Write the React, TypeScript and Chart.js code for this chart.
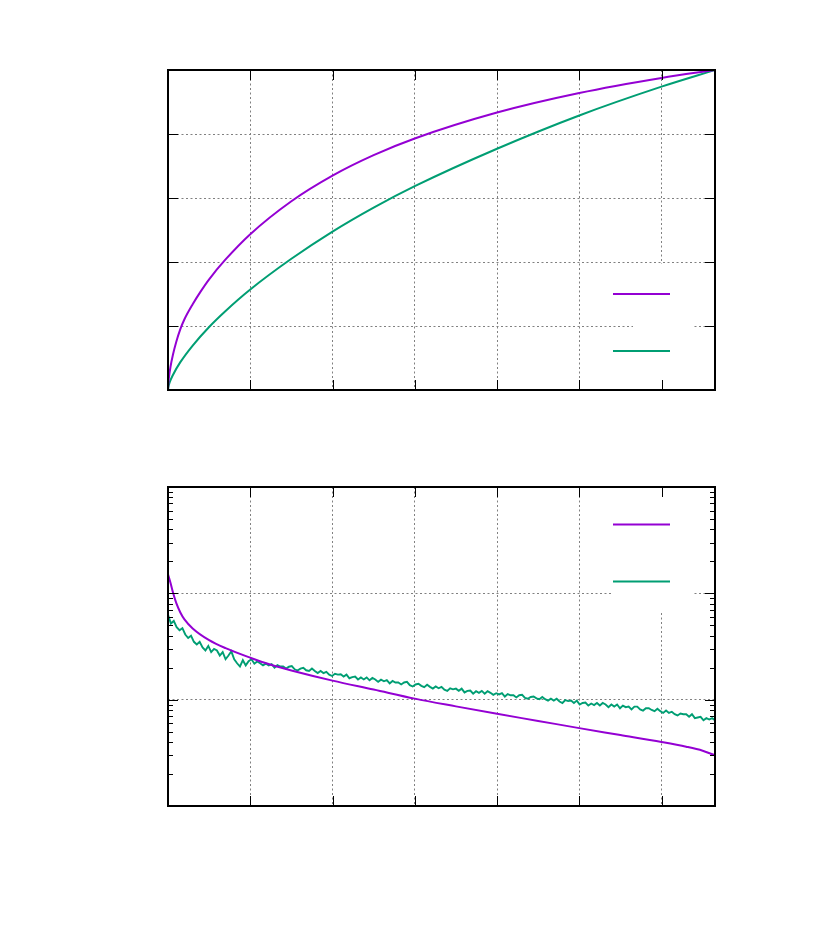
import React, { useEffect, useRef } from "react";
import { Chart, registerables } from "chart.js";

Chart.register(...registerables);

const PURPLE = "#9400d3";
const GREEN = "#009e73";

// X axis ticks shared by both panels
const xTickValues = [0, 1, 2, 3, 4, 5, 6];
const xMax = 6.65;

// Top panel (linear y 0..1)
const topYTicks = [0, 0.2, 0.4, 0.6, 0.8, 1];
const topPurpleX = [0, 0.003, 0.01, 0.03, 0.06, 0.1, 0.15, 0.2, 0.3, 0.4, 0.5, 0.7, 1, 1.5, 2, 2.5, 3, 4, 5, 6, 6.65];
const topPurpleY = [0, 0.016, 0.036, 0.072, 0.11, 0.15, 0.19, 0.221, 0.268, 0.309, 0.346, 0.408, 0.487, 0.59, 0.67, 0.734, 0.786, 0.867, 0.928, 0.975, 1];
const topGreenX = [0, 0.005, 0.02, 0.06, 0.15, 0.3, 0.5, 0.7, 1, 1.5, 2, 2.5, 3, 4, 5, 6, 6.65];
const topGreenY = [0, 0.01, 0.0235, 0.047, 0.087, 0.139, 0.197, 0.247, 0.314, 0.41, 0.495, 0.57, 0.637, 0.754, 0.858, 0.948, 1];

// Bottom panel (log y 0.001..1)
const logMajor = [0.001, 0.01, 0.1, 1];
const botPurpleX = [0, 0.03, 0.06, 0.1, 0.15, 0.2, 0.3, 0.5, 0.7, 1, 1.25, 1.5, 2, 2.5, 3, 3.5, 4, 4.5, 5, 5.5, 6, 6.3, 6.5, 6.65];
const botPurpleY = [0.1514, 0.1259, 0.1023, 0.0813, 0.0661, 0.0569, 0.0468, 0.0363, 0.0305, 0.0248, 0.0213, 0.0188, 0.0151, 0.01245, 0.01023, 0.00865, 0.00736, 0.00631, 0.0054, 0.00465, 0.004, 0.00361, 0.00331, 0.003];
const botGreenStep = 0.035;
const botGreenY = [
  0.063, 0.052, 0.055, 0.048, 0.045, 0.047, 0.041, 0.038, 0.040, 0.035,
  0.033, 0.035, 0.031, 0.029, 0.032, 0.028, 0.030, 0.029, 0.026, 0.028,
  0.024, 0.026, 0.0285, 0.024, 0.022, 0.0205, 0.0235, 0.021, 0.023, 0.024,
  0.0218, 0.0229, 0.0220, 0.0210, 0.0218, 0.0210, 0.0216, 0.0200, 0.0211, 0.0205,
  0.0205, 0.0196, 0.0204, 0.0207, 0.0193, 0.0188, 0.0196, 0.0199, 0.0189, 0.0186,
  0.0196, 0.0186, 0.0178, 0.0186, 0.0178, 0.0183, 0.0172, 0.0167, 0.0175, 0.0172,
  0.0173, 0.0165, 0.0172, 0.0159, 0.0163, 0.0165, 0.0155, 0.0162, 0.0155, 0.0162,
  0.0152, 0.0160, 0.0155, 0.0147, 0.0154, 0.0149, 0.0153, 0.0142, 0.0150, 0.0145,
  0.0145, 0.0139, 0.0145, 0.0147, 0.0137, 0.0133, 0.0139, 0.0141, 0.0135, 0.0131,
  0.0138, 0.0132, 0.0127, 0.0133, 0.0128, 0.0132, 0.0124, 0.0121, 0.0128, 0.0125,
  0.0127, 0.0121, 0.0127, 0.0117, 0.0121, 0.0122, 0.0114, 0.0120, 0.0116, 0.0121,
  0.0114, 0.0120, 0.0116, 0.0111, 0.0115, 0.0112, 0.0115, 0.0107, 0.0113, 0.0110,
  0.0110, 0.0105, 0.0110, 0.0111, 0.0104, 0.0102, 0.0106, 0.0107, 0.0103, 0.0101,
  0.0106, 0.0101, 0.0098, 0.0102, 0.0098, 0.0102, 0.0096, 0.0093, 0.0099, 0.0097,
  0.0098, 0.0093, 0.0098, 0.0090, 0.0093, 0.0094, 0.0088, 0.0092, 0.0089, 0.0093,
  0.0088, 0.0093, 0.0090, 0.0085, 0.0090, 0.0086, 0.0090, 0.0083, 0.0088, 0.0085,
  0.0086, 0.0081, 0.0086, 0.0086, 0.0081, 0.0079, 0.0083, 0.0083, 0.0080, 0.0078,
  0.0082, 0.0078, 0.0075, 0.0079, 0.0075, 0.0077, 0.0073, 0.0071, 0.0074, 0.0073,
  0.0073, 0.0069, 0.0073, 0.0067, 0.0068, 0.0069, 0.0064, 0.0067, 0.0065, 0.0067, 0.0064,
];

const zip = (xs: number[], ys: number[]) => xs.map((x, i) => ({ x, y: ys[i] }));

const framePlugin = {
  id: "frame",
  beforeDatasetsDraw(chart: any, _a: any, opts: any) {
    const ctx = chart.ctx;
    const b = opts.box;
    if (b) {
      ctx.save();
      ctx.fillStyle = "#ffffff";
      ctx.fillRect(b.x, b.y, b.w, b.h);
      ctx.restore();
    }
  },
  afterDatasetsDraw(chart: any, _a: any, opts: any) {
    const ctx = chart.ctx;
    const { left, right, top, bottom } = chart.chartArea;
    ctx.save();
    ctx.strokeStyle = "#000";
    ctx.lineWidth = 1;
    const xs = chart.scales.x;
    xs.ticks.forEach((t: any) => {
      const p = Math.round(xs.getPixelForValue(t.value)) + 0.5;
      if (p < left + 2 || p > right - 2) return;
      ctx.beginPath();
      ctx.moveTo(p, bottom); ctx.lineTo(p, bottom - 10);
      ctx.moveTo(p, top); ctx.lineTo(p, top + 10);
      ctx.stroke();
    });
    const ys = chart.scales.y;
    const yTick = (v: number, len: number) => {
      const p = Math.round(ys.getPixelForValue(v)) + 0.5;
      if (p < top + 2 || p > bottom - 2) return;
      ctx.beginPath();
      ctx.moveTo(left, p); ctx.lineTo(left + len, p);
      ctx.moveTo(right, p); ctx.lineTo(right - len, p);
      ctx.stroke();
    };
    ys.ticks.forEach((t: any) => yTick(t.value, 10));
    if (opts.logMinor) {
      for (let d = 0; d < logMajor.length - 1; d++) {
        for (let m = 2; m <= 9; m++) yTick(m * logMajor[d], 5);
      }
    }
    ctx.lineWidth = 2;
    ctx.strokeRect(left, top, right - left, bottom - top);
    (opts.keys || []).forEach((k: any, i: number) => {
      ctx.strokeStyle = chart.data.datasets[i].borderColor;
      ctx.lineWidth = 2;
      ctx.beginPath();
      ctx.moveTo(k.x1, k.y); ctx.lineTo(k.x2, k.y);
      ctx.stroke();
    });
    ctx.restore();
  },
};

const gridOpts = { color: "#808080", lineWidth: 1, drawTicks: false };
const borderOpts = { display: false, dash: [2, 2.5] };

function xScale() {
  return {
    type: "linear",
    min: 0,
    max: xMax,
    afterFit: (s: any) => { s.height = 0; },
    afterBuildTicks: (s: any) => { s.ticks = xTickValues.map((v) => ({ value: v })); },
    ticks: { display: false },
    grid: gridOpts,
    border: borderOpts,
  };
}

function PanelTop() {
  const ref = useRef<HTMLCanvasElement>(null);
  useEffect(() => {
    const chart = new Chart(ref.current as HTMLCanvasElement, {
      type: "line",
      data: {
        datasets: [
          { data: zip(topPurpleX, topPurpleY), borderColor: PURPLE, borderWidth: 2, pointRadius: 0, cubicInterpolationMode: "monotone" },
          { data: zip(topGreenX, topGreenY), borderColor: GREEN, borderWidth: 2, pointRadius: 0, cubicInterpolationMode: "monotone" },
        ],
      } as any,
      options: {
        animation: false,
        responsive: false,
        maintainAspectRatio: false,
        layout: { padding: { left: 168, top: 70, right: 125, bottom: 80 } },
        plugins: {
          legend: { display: false },
          tooltip: { enabled: false },
          frame: {
            box: { x: 633, y: 264, w: 60, h: 125 },
            keys: [{ x1: 613, x2: 670, y: 294 }, { x1: 613, x2: 670, y: 351 }],
          },
        } as any,
        scales: {
          x: xScale(),
          y: {
            type: "linear",
            min: 0,
            max: 1,
            afterFit: (s: any) => { s.width = 0; },
            afterBuildTicks: (s: any) => { s.ticks = topYTicks.map((v) => ({ value: v })); },
            ticks: { display: false },
            grid: gridOpts,
            border: borderOpts,
          },
        } as any,
      },
      plugins: [framePlugin],
    });
    return () => chart.destroy();
  }, []);
  return <canvas ref={ref} width={840} height={470} style={{ position: "absolute", left: 0, top: 0, width: 840, height: 470 }} />;
}

function PanelBottom() {
  const ref = useRef<HTMLCanvasElement>(null);
  useEffect(() => {
    const greenPts = botGreenY.map((y, i) => ({ x: Math.min(i * botGreenStep, xMax), y }));
    const chart = new Chart(ref.current as HTMLCanvasElement, {
      type: "line",
      data: {
        datasets: [
          { data: zip(botPurpleX, botPurpleY), borderColor: PURPLE, borderWidth: 2, pointRadius: 0, cubicInterpolationMode: "monotone" },
          { data: greenPts, borderColor: GREEN, borderWidth: 1.9, pointRadius: 0, tension: 0 },
        ],
      } as any,
      options: {
        animation: false,
        responsive: false,
        maintainAspectRatio: false,
        layout: { padding: { left: 168, top: 17, right: 125, bottom: 138 } },
        plugins: {
          legend: { display: false },
          tooltip: { enabled: false },
          frame: {
            logMinor: true,
            box: { x: 613, y: 18, w: 80, h: 124 },
            keys: [{ x1: 613, x2: 670, y: 54.5 }, { x1: 613, x2: 670, y: 111.5 }],
          },
        } as any,
        scales: {
          x: xScale(),
          y: {
            type: "logarithmic",
            min: 0.001,
            max: 1,
            afterFit: (s: any) => { s.width = 0; },
            afterBuildTicks: (s: any) => { s.ticks = logMajor.map((v) => ({ value: v })); },
            ticks: { display: false },
            grid: gridOpts,
            border: borderOpts,
          },
        } as any,
      },
      plugins: [framePlugin],
    });
    return () => chart.destroy();
  }, []);
  return <canvas ref={ref} width={840} height={474} style={{ position: "absolute", left: 0, top: 470, width: 840, height: 474 }} />;
}

export default function App() {
  return (
    <div style={{ position: "absolute", left: 0, top: 0, width: 840, height: 944, background: "#fff" }}>
      <PanelTop />
      <PanelBottom />
    </div>
  );
}
